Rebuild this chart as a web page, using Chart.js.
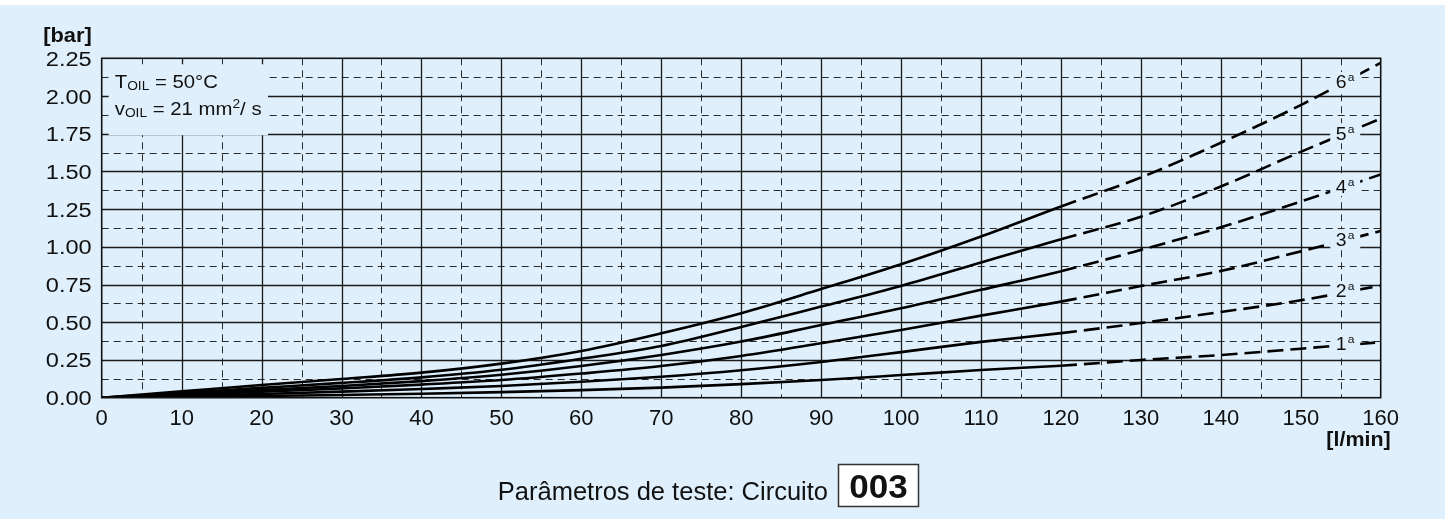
<!DOCTYPE html>
<html>
<head>
<meta charset="utf-8">
<script src="https://cdn.jsdelivr.net/npm/chart.js@4.4.1/dist/chart.umd.min.js"></script>
<style>
  html, body { margin: 0; padding: 0; background: rgb(223,240,252); }
  canvas { display: block; }
</style>
</head>
<body>
<canvas id="c" width="1445" height="519"></canvas>
<script>
// ---- data ----
const flow  = [0, 10, 20, 30, 40, 50, 60, 70, 80, 90, 100, 110, 120, 130, 140, 150, 160];
const gear1 = [0, 0.005, 0.011, 0.018, 0.026, 0.037, 0.050, 0.067, 0.090, 0.117, 0.150, 0.184, 0.212, 0.250, 0.283, 0.325, 0.368];
const gear2 = [0, 0.012, 0.025, 0.040, 0.058, 0.078, 0.106, 0.139, 0.182, 0.237, 0.302, 0.370, 0.428, 0.495, 0.568, 0.646, 0.743];
const gear3 = [0, 0.019, 0.039, 0.062, 0.087, 0.117, 0.160, 0.210, 0.277, 0.361, 0.449, 0.544, 0.637, 0.740, 0.840, 0.970, 1.105];
const gear4 = [0, 0.025, 0.051, 0.078, 0.110, 0.152, 0.210, 0.283, 0.372, 0.482, 0.593, 0.715, 0.838, 0.980, 1.130, 1.300, 1.480];
const gear5 = [0, 0.032, 0.065, 0.098, 0.135, 0.185, 0.258, 0.343, 0.469, 0.604, 0.741, 0.896, 1.050, 1.200, 1.400, 1.630, 1.850];
const gear6 = [0, 0.042, 0.084, 0.124, 0.166, 0.226, 0.310, 0.427, 0.560, 0.720, 0.885, 1.069, 1.268, 1.460, 1.690, 1.940, 2.220];
const gearSeries = [gear1, gear2, gear3, gear4, gear5, gear6];
const gearNumbers = ['1', '2', '3', '4', '5', '6'];
const ordinalSuffix = 'a';
const xTickLabels = ['0','10','20','30','40','50','60','70','80','90','100','110','120','130','140','150','160'];
const yTickLabels = ['0.00','0.25','0.50','0.75','1.00','1.25','1.50','1.75','2.00','2.25'];
const yUnit = '[bar]';
const xUnit = '[l/min]';
const captionText = 'Parâmetros de teste: Circuito';
const circuitCode = '003';
const dashedFrom = 120;   // curves are dashed beyond this flow
const labelAt = 155;      // flow where gear labels sit

const BG = 'rgb(223,240,252)';
const FONT = "'Liberation Sans', Arial, Helvetica, sans-serif";

function txt(ctx, s, x, y, font, align, sx) {
  ctx.save();
  ctx.font = font;
  const w = ctx.measureText(s).width * sx;
  const x0 = align === 'right' ? x - w : (align === 'center' ? x - w / 2 : x);
  ctx.translate(x0, y);
  ctx.scale(sx, 1);
  ctx.textAlign = 'left';
  ctx.textBaseline = 'alphabetic';
  ctx.fillStyle = '#111';
  ctx.fillText(s, 0, 0);
  ctx.restore();
  return w;
}
function runs(ctx, parts, x, y, sx) {
  let cx = x;
  for (const p of parts) {
    cx += txt(ctx, p.t, cx, y + (p.dy || 0), p.font, 'left', sx);
  }
}

const deco = {
  id: 'deco',
  beforeDraw(chart) {
    const ctx = chart.ctx, W = chart.width, H = chart.height;
    ctx.save();
    ctx.fillStyle = BG; ctx.fillRect(0, 0, W, H);
    ctx.fillStyle = '#ffffff'; ctx.fillRect(0, 0, W, 5);
    ctx.restore();
  },
  beforeDatasetsDraw(chart) {
    const ctx = chart.ctx, a = chart.chartArea;
    const xs = chart.scales.x, ys = chart.scales.y;
    ctx.save();
    // minor dashed grid
    ctx.strokeStyle = '#2a2a2a'; ctx.lineWidth = 1; ctx.setLineDash([7, 5]);
    for (let v = 5; v < 160; v += 10) {
      const px = Math.round(xs.getPixelForValue(v)) + 0.5;
      ctx.beginPath(); ctx.moveTo(px, a.top); ctx.lineTo(px, a.bottom); ctx.stroke();
    }
    for (let v = 0.125; v < 2.25; v += 0.25) {
      const py = Math.round(ys.getPixelForValue(v)) + 0.5;
      ctx.beginPath(); ctx.moveTo(a.left, py); ctx.lineTo(a.right, py); ctx.stroke();
    }
    // major solid grid
    ctx.setLineDash([]); ctx.strokeStyle = '#1a1a1a'; ctx.lineWidth = 1.3;
    for (let v = 10; v < 160; v += 10) {
      const px = Math.round(xs.getPixelForValue(v)) + 0.5;
      ctx.beginPath(); ctx.moveTo(px, a.top); ctx.lineTo(px, a.bottom); ctx.stroke();
    }
    for (let v = 0.25; v < 2.25; v += 0.25) {
      const py = Math.round(ys.getPixelForValue(v)) + 0.5;
      ctx.beginPath(); ctx.moveTo(a.left, py); ctx.lineTo(a.right, py); ctx.stroke();
    }
    // annotation box mask
    const bx0 = a.left + 7, by0 = a.top + 6;
    const bx1 = xs.getPixelForValue(20.8), by1 = ys.getPixelForValue(1.75) + 1.5;
    ctx.fillStyle = BG;
    ctx.fillRect(bx0, by0, bx1 - bx0, by1 - by0);
    ctx.restore();
    // annotation text
    const f18 = '18.5px ' + FONT, f12 = '12.5px ' + FONT;
    runs(ctx, [
      { t: 'T', font: f18 }, { t: 'OIL', font: f12, dy: 2 }, { t: ' = 50°C', font: f18 }
    ], a.left + 13, a.top + 30, 1.1);
    runs(ctx, [
      { t: 'v', font: f18 }, { t: 'OIL', font: f12, dy: 2 }, { t: ' = 21 mm', font: f18 },
      { t: '2', font: f12, dy: -7 }, { t: '/ s', font: f18 }
    ], a.left + 13, a.top + 57, 1.1);
  },
  afterDatasetsDraw(chart) {
    const ctx = chart.ctx, a = chart.chartArea;
    const xs = chart.scales.x, ys = chart.scales.y;
    const i0 = flow.indexOf(150), i1 = flow.indexOf(160);
    const lx = xs.getPixelForValue(labelAt);
    gearSeries.forEach((s, k) => {
      const yv = s[i0] + (s[i1] - s[i0]) * (labelAt - 150) / 10;
      const ly = ys.getPixelForValue(yv) - 2;
      ctx.save();
      ctx.fillStyle = BG;
      ctx.fillRect(lx - 10.5, ly - 10, 30, 20);
      ctx.restore();
      const dw = txt(ctx, gearNumbers[k], lx + 0.5, ly + 6.5, '18.5px ' + FONT, 'center', 1.05);
      txt(ctx, ordinalSuffix, lx + 0.5 + dw / 2 + 1, ly - 0.5, '11.5px ' + FONT, 'left', 1.05);
    });
    // plot border
    ctx.save();
    ctx.strokeStyle = '#111'; ctx.lineWidth = 1.6; ctx.setLineDash([]);
    ctx.strokeRect(a.left, a.top, a.right - a.left, a.bottom - a.top);
    ctx.restore();
  },
  afterDraw(chart) {
    const ctx = chart.ctx, a = chart.chartArea;
    const xs = chart.scales.x, ys = chart.scales.y;
    // y tick labels
    yTickLabels.forEach(l => {
      const py = ys.getPixelForValue(parseFloat(l));
      txt(ctx, l, a.left - 10, py + 7.5, '20.5px ' + FONT, 'right', 1.15);
    });
    // x tick labels
    xTickLabels.forEach(l => {
      const px = xs.getPixelForValue(parseFloat(l));
      txt(ctx, l, px, a.bottom + 27.5, '22px ' + FONT, 'center', 1.0);
    });
    // units
    txt(ctx, yUnit, a.left - 10, a.top - 16, 'bold 19.5px ' + FONT, 'right', 1.12);
    txt(ctx, xUnit, a.right + 10, a.bottom + 48.5, 'bold 19.5px ' + FONT, 'right', 1.1);
    // caption
    txt(ctx, captionText, 828, 500, '25.5px ' + FONT, 'right', 1.0);
    ctx.save();
    ctx.fillStyle = '#ffffff';
    ctx.fillRect(838, 464, 81, 43);
    ctx.strokeStyle = '#333'; ctx.lineWidth = 1.5;
    ctx.strokeRect(838.5, 464.5, 80, 42);
    ctx.restore();
    txt(ctx, circuitCode, 878.5, 497.5, 'bold 34px ' + FONT, 'center', 1.03);
  }
};

const datasets = gearSeries.map((s, k) => ({
  label: gearNumbers[k] + ordinalSuffix,
  data: flow.map((q, i) => ({ x: q, y: s[i] })),
  borderColor: '#000',
  borderWidth: 2.6,
  pointRadius: 0,
  fill: false,
  cubicInterpolationMode: 'monotone',
  segment: {
    borderDash: ctx => (ctx.p0.parsed.x >= dashedFrom ? [16, 7] : undefined)
  }
}));

new Chart(document.getElementById('c'), {
  type: 'line',
  data: { datasets },
  options: {
    responsive: false,
    animation: false,
    devicePixelRatio: 1,
    layout: { padding: { left: 101.7, right: 64.3, top: 58.3, bottom: 121.3 } },
    scales: {
      x: { type: 'linear', min: 0, max: 160, display: false },
      y: { type: 'linear', min: 0, max: 2.25, display: false }
    },
    plugins: { legend: { display: false }, tooltip: { enabled: false } },
    elements: { line: { borderCapStyle: 'butt' } }
  },
  plugins: [deco]
});
</script>
</body>
</html>
